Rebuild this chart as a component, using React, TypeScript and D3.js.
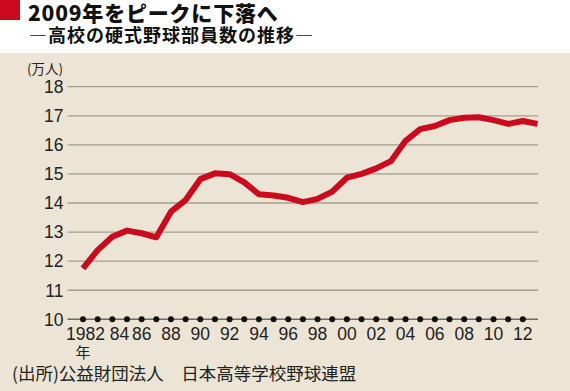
import React from "react";
import * as d3 from "d3";

const years = d3.range(1982, 2014);
const members = [
  11.75, 12.38, 12.84, 13.05, 12.96, 12.82, 13.7, 14.1, 14.82, 15.02, 14.99, 14.71,
  14.3, 14.26, 14.18, 14.03, 14.14, 14.39, 14.87, 15.0, 15.19, 15.44, 16.14, 16.54,
  16.65, 16.85, 16.93, 16.95, 16.85, 16.72, 16.82, 16.72,
];
const dotYears = d3.range(1982, 2013);
const yTicks = [10, 11, 12, 13, 14, 15, 16, 17, 18];
const xTickYears = [1982, 1984, 1986, 1988, 1990, 1992, 1994, 1996, 1998, 2000, 2002, 2004, 2006, 2008, 2010, 2012];
const xTickLabels = ["1982", "84", "86", "88", "90", "92", "94", "96", "98", "00", "02", "04", "06", "08", "10", "12"];

const title = "2009年をピークに下落へ";
const subtitle = "―高校の硬式野球部員数の推移―";
const unitLabel = "(万人)";
const yearUnit = "年";
const source = "(出所)公益財団法人\u3000日本高等学校野球連盟";

const W = 570;
const H = 391;

export default function App() {
  const x = d3.scaleLinear().domain([1982, 2013]).range([83, 537.5]);
  const y = d3.scaleLinear().domain([10, 18]).range([319.3, 86.7]);
  const line = d3
    .line<number>()
    .x((_, i) => x(years[i]))
    .y((d) => y(d))
    .curve(d3.curveLinear);

  const jp = "'Noto Sans CJK JP', sans-serif";
  const num = "'Liberation Sans', Arial, sans-serif";

  return (
    <div style={{ position: "fixed", left: 0, top: 0, width: W, height: H }}>
      <svg width={W} height={H} style={{ display: "block" }}>
        <rect x={0} y={0} width={W} height={H} fill="#ece5d6" />
        <rect x={0} y={0} width={W} height={53} fill="#ffffff" />
        <rect x={0} y={0} width={20} height={20} fill="#cc0a1e" />
        <text x={28} y={20.5} fontFamily={jp} fontWeight={900} fontSize={21} fill="#111" letterSpacing={0.8}>
          {title}
        </text>
        <text x={29} y={42} fontFamily={jp} fontWeight={700} fontSize={18} fill="#111" letterSpacing={1}>
          {subtitle}
        </text>

        <text x={27} y={74} fontFamily={jp} fontSize={13.5} fill="#222">
          {unitLabel}
        </text>

        {yTicks.map((t) => (
          <g key={t}>
            <line
              x1={67.5}
              x2={538}
              y1={y(t)}
              y2={y(t)}
              stroke={t === 10 ? "#6e6a62" : "#a39e90"}
              strokeWidth={t === 10 ? 1.6 : 1.3}
            />
            <text
              x={63.5}
              y={y(t)}
              dy="0.36em"
              textAnchor="end"
              fontFamily={num}
              fontSize={17.5}
              fill="#222"
            >
              {t}
            </text>
          </g>
        ))}

        {dotYears.map((yr) => (
          <circle key={yr} cx={x(yr)} cy={y(10)} r={3} fill="#111" />
        ))}

        {xTickYears.map((yr, i) => (
          <text
            key={yr}
            x={i === 0 ? x(yr) - 17 : i === 1 ? x(yr) - 2.5 : x(yr)}
            y={340}
            textAnchor={i === 0 || i === 1 ? "start" : "middle"}
            fontFamily={num}
            fontSize={17.5}
            fill="#222"
          >
            {xTickLabels[i]}
          </text>
        ))}
        <text x={x(1982)} y={357.5} textAnchor="middle" fontFamily={jp} fontSize={15} fill="#222">
          {yearUnit}
        </text>

        <path
          d={line(members) || ""}
          fill="none"
          stroke="#cc0a1e"
          strokeWidth={6}
          strokeLinejoin="round"
          strokeLinecap="butt"
        />

        <text x={12} y={380} fontFamily={jp} fontSize={17.5} fill="#222">
          {source}
        </text>
      </svg>
    </div>
  );
}
